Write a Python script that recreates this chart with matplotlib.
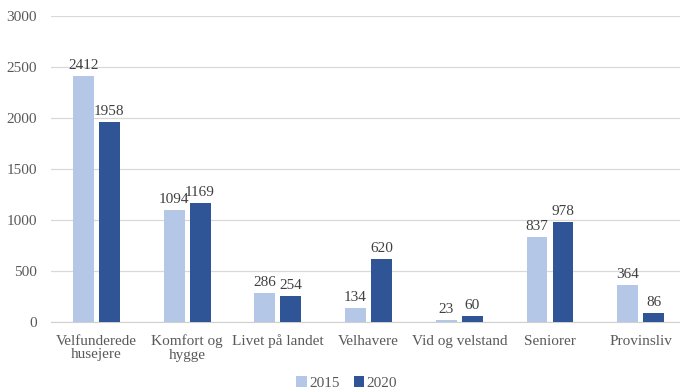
import matplotlib.pyplot as plt
import numpy as np

categories = ['Velfunderede\nhusejere', 'Komfort og\nhygge', 'Livet på landet',
              'Velhavere', 'Vid og velstand', 'Seniorer', 'Provinsliv']
values_2015 = [2412, 1094, 286, 134, 23, 837, 364]
values_2020 = [1958, 1169, 254, 620, 60, 978, 86]
series_labels = ['2015', '2020']
y_ticks = [0, 500, 1000, 1500, 2000, 2500, 3000]

plt.rcParams['font.family'] = ['Liberation Serif', 'DejaVu Serif']
text_color = '#595959'

fig = plt.figure(figsize=(6.8, 3.9), dpi=100)
# the plot area runs a little past the right edge of the figure
ax = fig.add_axes([0.075, 0.174, 0.934, 0.785])

x = np.arange(len(categories))
w = 0.23
gap = 0.028
b1 = ax.bar(x - w / 2 - gap, values_2015, w, color='#B4C7E7', label=series_labels[0], zorder=3)
b2 = ax.bar(x + w / 2 + gap, values_2020, w, color='#2F5597', label=series_labels[1], zorder=3)

for bars in (b1, b2):
    for rect in bars:
        ax.text(rect.get_x() + rect.get_width() / 2, rect.get_height() + 40,
                f'{int(rect.get_height())}', ha='center', va='bottom',
                fontsize=11, color='#404040')

ax.set_xlim(-0.5, len(categories) - 0.5)
ax.set_ylim(0, 3000)
ax.set_yticks(y_ticks)
ax.set_xticks(x)
ax.set_xticklabels(categories, fontsize=11, color=text_color, linespacing=1.05)
ax.tick_params(axis='y', labelsize=11, labelcolor=text_color, length=0, pad=10)
ax.tick_params(axis='x', length=0, pad=9)
ax.grid(axis='y', color='#D9D9D9', linewidth=0.9, zorder=0)
for side in ('top', 'right', 'left'):
    ax.spines[side].set_visible(False)
ax.spines['bottom'].set_color('#D0D0D0')

fig.legend(loc='lower center', bbox_to_anchor=(0.51, -0.035), ncol=2, frameon=False,
           fontsize=11, labelcolor=text_color, handlelength=0.7, handleheight=0.7,
           handletextpad=0.15, columnspacing=0.9)

fig.savefig('out.png', dpi=100)
